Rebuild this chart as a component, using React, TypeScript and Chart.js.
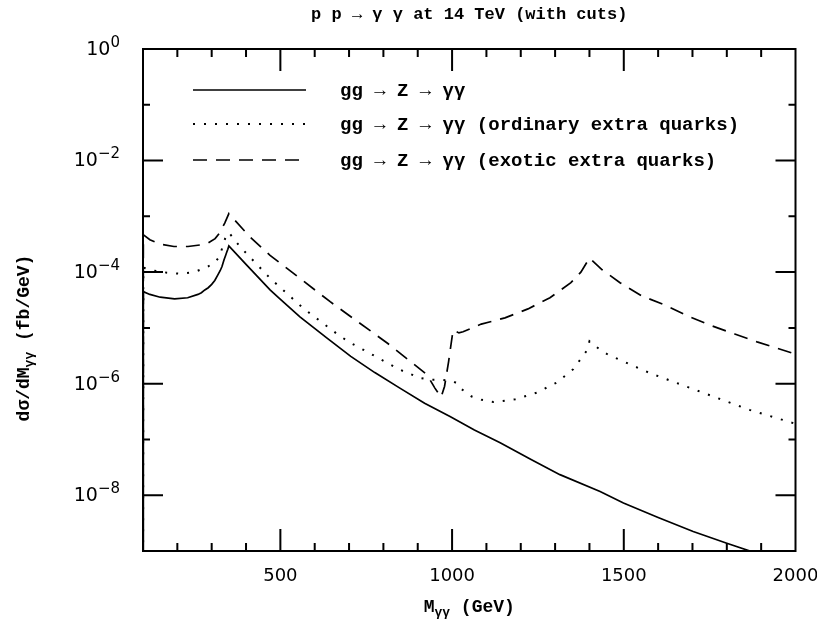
import { useEffect, useRef } from "react";
import { Chart, registerables } from "chart.js";

Chart.register(...registerables);

const W = 817;
const H = 627;

const TITLE = "p p → γ γ at 14 TeV (with cuts)";
const SERIES_LABELS = [
  "gg → Z → γγ",
  "gg → Z → γγ (ordinary extra quarks)",
  "gg → Z → γγ (exotic extra quarks)",
];

const X_MIN = 100;
const X_MAX = 2000;
const Y_MIN = 1e-9;
const Y_MAX = 1;
const X_TICK_LABELS = [500, 1000, 1500, 2000];
const X_MAJOR_TICKS = [500, 1000, 1500];
const X_MINOR_TICKS = [200, 300, 400, 600, 700, 800, 900, 1100, 1200, 1300, 1400, 1600, 1700, 1800, 1900];
const Y_MAJOR_EXPONENTS = [0, -2, -4, -6, -8];
const Y_MINOR_EXPONENTS = [-1, -3, -5, -7];

// Standard model (solid)
const smMass = [100, 101, 120, 150, 192, 230, 260, 270, 280, 290, 300, 309, 318, 325, 330, 336, 340, 344, 347, 350, 400, 470, 493, 557, 635, 705, 775, 848, 920, 994, 1065, 1140, 1230, 1314, 1431, 1499, 1600, 1702, 1800, 1872, 1950];
const smValue = [1e-12, 4.47e-5, 3.98e-5, 3.55e-5, 3.31e-5, 3.47e-5, 3.98e-5, 4.27e-5, 4.79e-5, 5.25e-5, 6.03e-5, 7.08e-5, 8.91e-5, 1.07e-4, 1.26e-4, 1.66e-4, 1.95e-4, 2.29e-4, 2.57e-4, 2.95e-4, 1.38e-4, 4.79e-5, 3.55e-5, 1.58e-5, 6.61e-6, 3.09e-6, 1.58e-6, 8.32e-7, 4.47e-7, 2.57e-7, 1.48e-7, 8.71e-8, 4.37e-8, 2.34e-8, 1.17e-8, 7.24e-9, 3.98e-9, 2.24e-9, 1.38e-9, 9.77e-10, 6.61e-10];

// Ordinary extra quarks (dotted)
const ordMass = [100, 101, 130, 170, 211, 250, 289, 310, 323, 339, 350, 382, 470, 567, 672, 705, 848, 907, 941, 968, 1000, 1014, 1028, 1057, 1086, 1121, 1184, 1247, 1305, 1353, 1392, 1400, 1431, 1454, 1576, 1721, 1866, 2000];
const ordValue = [1e-12, 1.2e-4, 1.07e-4, 9.77e-5, 9.33e-5, 1.0e-4, 1.26e-4, 1.51e-4, 1.91e-4, 3.98e-4, 5.13e-4, 2.88e-4, 7.76e-5, 2.24e-5, 7.24e-6, 5.37e-6, 1.78e-6, 1.26e-6, 1.17e-6, 1.17e-6, 1.12e-6, 1.02e-6, 7.94e-7, 5.89e-7, 5.13e-7, 4.68e-7, 5.25e-7, 6.92e-7, 1.05e-6, 1.82e-6, 3.89e-6, 5.75e-6, 4.07e-6, 3.31e-6, 1.55e-6, 7.24e-7, 3.39e-7, 1.91e-7];

// Exotic extra quarks (dashed)
const exoMass = [100, 101, 120, 150, 190, 231, 270, 289, 310, 323, 338, 350, 410, 470, 645, 813, 927, 950, 968, 978, 990, 998, 1003, 1020, 1032, 1085, 1154, 1221, 1285, 1346, 1375, 1400, 1437, 1489, 1553, 1620, 1684, 1754, 1823, 1888, 2000];
const exoValue = [1e-12, 4.68e-4, 3.8e-4, 3.16e-4, 2.88e-4, 2.88e-4, 3.09e-4, 3.31e-4, 3.98e-4, 5.01e-4, 7.59e-4, 1.12e-3, 4.37e-4, 2.0e-4, 2.95e-5, 5.25e-6, 1.45e-6, 8.32e-7, 5.75e-7, 8.91e-7, 2.51e-6, 5.62e-6, 9.12e-6, 8.13e-6, 8.51e-6, 1.17e-5, 1.51e-5, 2.19e-5, 3.47e-5, 6.46e-5, 1.0e-4, 1.78e-4, 1.1e-4, 6.46e-5, 3.72e-5, 2.57e-5, 1.66e-5, 1.1e-5, 7.76e-6, 5.62e-6, 3.39e-6];

const TEXT_FONT = '"Liberation Mono", monospace';
const NUM_FONT = '"DejaVu Sans", sans-serif';

function pts(xs: number[], ys: number[]) {
  return xs.map((x, i) => ({ x, y: ys[i] }));
}

function drawSubText(
  ctx: CanvasRenderingContext2D,
  parts: { t: string; sub?: boolean }[],
  cx: number,
  cy: number,
  size: number,
  subSize: number,
  subDrop: number
) {
  const widths = parts.map((p) => {
    ctx.font = `bold ${p.sub ? subSize : size}px ${TEXT_FONT}`;
    return ctx.measureText(p.t).width;
  });
  const total = widths.reduce((a, b) => a + b, 0);
  let x = cx - total / 2;
  ctx.textAlign = "left";
  ctx.textBaseline = "alphabetic";
  parts.forEach((p, i) => {
    ctx.font = `bold ${p.sub ? subSize : size}px ${TEXT_FONT}`;
    ctx.fillText(p.t, x, cy + (p.sub ? subDrop : 0));
    x += widths[i];
  });
}

const decorPlugin = {
  id: "decor",
  afterDraw(chart: any) {
    const { ctx, chartArea: a } = chart;
    const xs = chart.scales.x;
    const ys = chart.scales.y;
    ctx.save();
    ctx.strokeStyle = "#000";
    ctx.fillStyle = "#000";
    ctx.lineWidth = 2;
    ctx.lineCap = "butt";
    ctx.setLineDash([]);
    ctx.strokeRect(a.left, a.top, a.right - a.left, a.bottom - a.top);

    ctx.beginPath();
    const xt = [...X_MAJOR_TICKS.map((v) => [v, 22]), ...X_MINOR_TICKS.map((v) => [v, 8])];
    for (const [v, len] of xt) {
      const px = xs.getPixelForValue(v);
      ctx.moveTo(px, a.bottom);
      ctx.lineTo(px, a.bottom - len);
      ctx.moveTo(px, a.top);
      ctx.lineTo(px, a.top + len);
    }
    const yt = [...Y_MAJOR_EXPONENTS.map((e) => [e, 20]), ...Y_MINOR_EXPONENTS.map((e) => [e, 7])];
    for (const [e, len] of yt) {
      const py = ys.getPixelForValue(Math.pow(10, e));
      ctx.moveTo(a.left, py);
      ctx.lineTo(a.left + len, py);
      ctx.moveTo(a.right, py);
      ctx.lineTo(a.right - len, py);
    }
    ctx.stroke();

    // y tick labels
    ctx.textBaseline = "middle";
    ctx.textAlign = "left";
    for (const e of Y_MAJOR_EXPONENTS) {
      const py = ys.getPixelForValue(Math.pow(10, e));
      const exp = e === 0 ? "0" : "\u2212" + String(-e);
      ctx.font = `15px ${NUM_FONT}`;
      const ew = ctx.measureText(exp).width;
      ctx.font = `19px ${NUM_FONT}`;
      const bw = ctx.measureText("10").width;
      const right = 120;
      ctx.fillText("10", right - ew - bw, py + 1);
      ctx.font = `15px ${NUM_FONT}`;
      ctx.fillText(exp, right - ew, py - 6);
    }

    // x tick labels
    ctx.font = `18px ${NUM_FONT}`;
    ctx.textAlign = "center";
    ctx.textBaseline = "middle";
    for (const v of X_TICK_LABELS) {
      ctx.fillText(String(v), xs.getPixelForValue(v), 576);
    }

    const midX = (a.left + a.right) / 2;
    // title
    ctx.font = `bold 17px ${TEXT_FONT}`;
    ctx.textAlign = "center";
    ctx.textBaseline = "middle";
    ctx.fillText(TITLE, midX, 15);

    // x axis title
    drawSubText(ctx, [{ t: "M" }, { t: "γγ", sub: true }, { t: " (GeV)" }], midX, 612, 18, 13, 4);

    // y axis title
    ctx.save();
    ctx.translate(29, 338);
    ctx.rotate(-Math.PI / 2);
    drawSubText(
      ctx,
      [{ t: "dσ/dM" }, { t: "γγ", sub: true }, { t: " (fb/GeV)" }],
      0,
      0,
      18,
      13,
      4
    );
    ctx.restore();

    // legend
    const rows = [90, 124, 160];
    chart.data.datasets.forEach((ds: any, i: number) => {
      const y = rows[i];
      ctx.save();
      ctx.lineWidth = ds.borderWidth;
      ctx.lineCap = ds.borderCapStyle || "butt";
      ctx.setLineDash(ds.borderDash || []);
      ctx.beginPath();
      ctx.moveTo(193, y);
      ctx.lineTo(306, y);
      ctx.stroke();
      ctx.restore();
      ctx.font = `bold 19px ${TEXT_FONT}`;
      ctx.textAlign = "left";
      ctx.textBaseline = "middle";
      ctx.fillText(ds.label, 340, y + 1);
    });
    ctx.restore();
  },
};

export default function App() {
  const ref = useRef<HTMLCanvasElement | null>(null);
  useEffect(() => {
    if (!ref.current) return;
    const chart = new Chart(ref.current, {
      type: "scatter",
      data: {
        datasets: [
          {
            label: SERIES_LABELS[0],
            data: pts(smMass, smValue),
            showLine: true,
            borderColor: "#000",
            borderWidth: 1.7,
            pointRadius: 0,
            tension: 0,
            fill: false,
          },
          {
            label: SERIES_LABELS[1],
            data: pts(ordMass, ordValue),
            showLine: true,
            borderColor: "#000",
            borderWidth: 2,
            borderDash: [2, 9],
            pointRadius: 0,
            tension: 0,
            fill: false,
          },
          {
            label: SERIES_LABELS[2],
            data: pts(exoMass, exoValue),
            showLine: true,
            borderColor: "#000",
            borderWidth: 1.7,
            borderDash: [14, 9],
            pointRadius: 0,
            tension: 0,
            fill: false,
          },
        ],
      },
      options: {
        responsive: false,
        animation: false,
        layout: { padding: { left: 143, top: 49, right: W - 795.5, bottom: H - 551 } },
        plugins: { legend: { display: false }, title: { display: false }, tooltip: { enabled: false } },
        scales: {
          x: { type: "linear", min: X_MIN, max: X_MAX, display: false },
          y: { type: "logarithmic", min: Y_MIN, max: Y_MAX, display: false },
        },
      },
      plugins: [decorPlugin],
    });
    return () => chart.destroy();
  }, []);
  return (
    <div style={{ position: "absolute", left: 0, top: 0, width: W, height: H }}>
      <canvas ref={ref} width={W} height={H} style={{ display: "block", width: W, height: H }} />
    </div>
  );
}
